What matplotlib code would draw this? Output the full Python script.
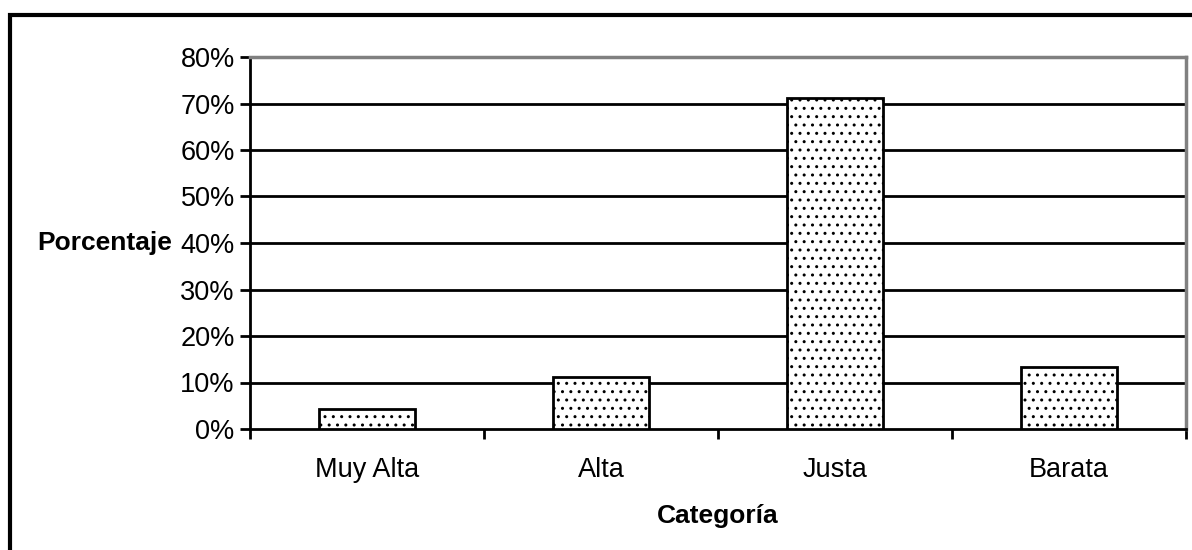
import matplotlib
matplotlib.use("Agg")
import matplotlib.pyplot as plt
from matplotlib.patches import Rectangle
from matplotlib.ticker import FuncFormatter

categorias = ["Muy Alta", "Alta", "Justa", "Barata"]
porcentajes = [4.4, 11.1, 71.2, 13.3]
y_ticks = [0, 10, 20, 30, 40, 50, 60, 70, 80]

plt.rcParams["font.family"] = ["Liberation Sans", "DejaVu Sans"]
plt.rcParams["hatch.linewidth"] = 1.0
plt.rcParams["hatch.color"] = "black"

fig = plt.figure(figsize=(11.92, 5.5), dpi=100)
ax = fig.add_axes([250 / 1192, 121 / 550, 936 / 1192, 372 / 550])

# outer chart frame (runs off the right and bottom edges)
fig.patches.append(Rectangle((10 / 1192, -0.1), 1.2, 0.1 + 535 / 550,
                             transform=fig.transFigure, fill=False,
                             edgecolor="black", linewidth=3, zorder=0))

x = list(range(len(categorias)))
ax.bar(x, porcentajes, width=0.41, color="white", edgecolor="black",
       linewidth=2, hatch="..", zorder=3)

ax.set_xlim(-0.5, len(categorias) - 0.5)
ax.set_ylim(0, 80)
ax.set_yticks(y_ticks)
ax.yaxis.set_major_formatter(FuncFormatter(lambda v, p: f"{int(v)}%"))

for v in y_ticks[1:-1]:
    ax.axhline(v, color="black", linewidth=2, zorder=1)

# category boundaries carry the tick marks, centres carry the labels
ax.set_xticks([i - 0.5 for i in range(len(categorias) + 1)])
ax.set_xticklabels([])
ax.set_xticks(x, minor=True)
ax.set_xticklabels(categorias, minor=True)
ax.tick_params(axis="x", which="minor", length=0, pad=20, labelsize=19.5)
ax.tick_params(axis="x", which="major", length=7, width=2, direction="out")
ax.tick_params(axis="y", length=7, width=2, direction="out", pad=4, labelsize=19.5)

for s in ("left", "bottom"):
    ax.spines[s].set_color("black")
    ax.spines[s].set_linewidth(2)
for s in ("top", "right"):
    ax.spines[s].set_color("#808080")
    ax.spines[s].set_linewidth(2.5)

ax.set_xlabel("Categoría", fontsize=19, fontweight="bold", labelpad=15)
ax.set_ylabel("Porcentaje", fontsize=19, fontweight="bold", rotation=0,
              ha="right", va="center")
ax.yaxis.set_label_coords(-0.083, 0.5)

fig.savefig("out.png", dpi=100)
